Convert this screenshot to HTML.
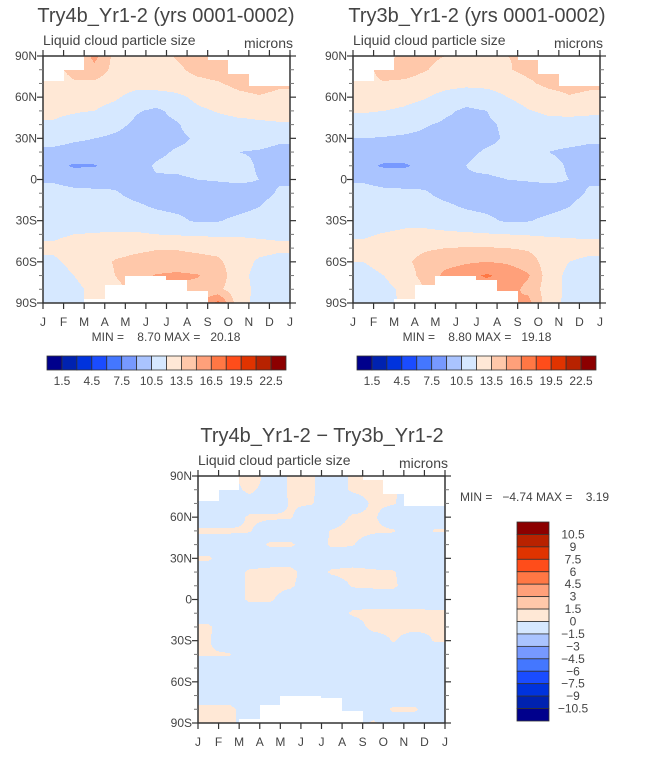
<!DOCTYPE html>
<html><head><meta charset="utf-8"><style>
html,body{margin:0;padding:0;background:#fff;}
svg text{font-family:"Liberation Sans",sans-serif;fill:#444;white-space:pre;}
</style></head><body>
<svg id="fig" width="646" height="753" viewBox="0 0 646 753" xmlns="http://www.w3.org/2000/svg"></svg>
<script>
const months = ["J","F","M","A","M","J","J","A","S","O","N","D","J"];
const latTicks = ["90N","60N","30N","0","30S","60S","90S"];
const palette = ["#00008C","#0022B0","#0033DD","#1A4CFF","#4477FF","#7799FF","#AAC4FF","#D6E8FF","#FFE8D6","#FFC8AA","#FFA07A","#FF7744","#FF4D1A","#E03300","#B82200","#8C0000"];
const barLabelsAbs = ["1.5","4.5","7.5","10.5","13.5","16.5","19.5","22.5"];
const barLabelsDiff = ["10.5","9","7.5","6","4.5","3","1.5","0","\u22121.5","\u22123","\u22124.5","\u22126","\u22127.5","\u22129","\u221210.5"];
// rows: lat 90..-90 step 10 ; cols: months Jan..Dec
const fieldA = [
[13,13,15.5,13,12.8,13,13.6,13.8,14,13.5,13.6,13.6],
[13,14,14.5,13,12.7,13,13.3,13.8,14,13.6,13.8,13.8],
[12.8,13.3,13.2,12.6,12.5,12.8,12.9,13.2,13.4,13.8,14,13.7],
[12.5,12.6,12.5,12.2,11.5,11.2,11.6,12.4,12.8,13.2,13.4,13.2],
[12.2,12.1,12,11.5,10.6,10.3,10.8,11.7,12.1,12.4,12.4,12.4],
[11.9,11.6,11.2,10.8,10.3,10.2,10.4,11,11.4,11.6,11.8,11.9],
[11.0,10.7,10.5,10.3,10.1,10.2,10.3,10.6,10.9,11,11,10.7],
[10.2,10.0,10.0,10.0,10.2,10.3,10.6,10.7,10.6,10.5,10.4,10.2],
[9.5,8.8,8.9,9.6,10.1,10.6,10.8,11,11,10.8,10.4,10.1],
[10.4,10.2,10.1,10.2,10.3,10.4,10.3,10.5,10.6,10.7,10.5,10.4],
[10.8,10.7,10.7,10.6,10.2,10.0,10.0,9.9,9.9,10.0,10.2,10.6],
[11.0,11.0,11.0,10.9,10.7,10.4,10.2,10.0,10.0,10.1,10.5,10.9],
[11.2,11.2,11.2,11.2,11.1,11.0,10.8,10.3,10.4,10.8,11.1,11.2],
[11.8,12.0,12.1,12.2,12.2,12.0,11.9,11.8,11.8,11.8,11.8,11.8],
[12.2,12.5,12.8,13.0,13.2,13.4,13.4,13.2,13,12.8,12.4,12.2],
[11.8,12.3,13,13.6,13.9,14.1,14.1,14,13.8,12.6,11.8,11.6],
[11.5,12,12.6,13.5,14.4,15.1,15.3,15.1,14.4,12.4,11.6,11.4],
[11.4,11.7,12.3,13,14,14.5,14.8,14.5,13.8,12.6,11.6,11.4],
[11,11.8,12.2,12.6,13,13.5,14,14,17,12.5,11.6,10.8]];
const fieldB = [
[13,13,13.8,13.8,13.5,13.3,13.4,13.5,13.6,13.5,13.6,13.6],
[13,14,14.2,13.6,13,13,13.2,13.4,13.8,13.8,13.8,13.8],
[13.2,13.4,13.2,12.8,12.5,12.4,12.5,12.8,13.3,13.8,14,13.8],
[12.6,12.6,12.4,12.1,11.5,11,11.2,12,12.6,13,13.4,13.2],
[12.1,12,11.8,11.4,10.7,10.3,10.5,11.2,11.9,12.3,12.3,12.2],
[11.5,11.3,11,10.6,10.3,10.2,10.3,10.7,11.2,11.5,11.6,11.6],
[10.5,10.4,10.3,10.2,10.1,10.2,10.3,10.6,10.8,10.9,10.9,10.7],
[10.1,9.8,9.9,10.0,10.2,10.3,10.6,10.7,10.6,10.5,10.3,10.2],
[9.4,8.8,8.8,9.5,10.0,10.5,10.8,11,11,10.8,10.4,10.1],
[10.4,10.2,10.1,10.2,10.3,10.4,10.3,10.5,10.6,10.7,10.5,10.4],
[10.8,10.7,10.7,10.6,10.2,10.0,10.0,9.9,9.9,10.0,10.2,10.6],
[11.0,11.0,11.0,10.9,10.7,10.4,10.2,9.9,10.0,10.1,10.5,10.9],
[11.2,11.3,11.6,11.5,11.2,11.0,10.8,10.3,10.4,10.8,11.1,11.2],
[11.8,12.1,12.3,12.4,12.3,12.2,12.1,12.0,11.9,11.8,11.8,11.8],
[12.4,12.7,13,13.3,13.5,13.6,13.6,13.5,13.3,12.9,12.5,12.4],
[12,12.5,13.2,14,14.5,14.8,15,14.8,14.2,12.8,12,11.7],
[11.5,12,12.8,14,15.4,16,16.7,16,15.2,12.8,11.6,11.4],
[11.3,11.6,12.3,13.5,14.5,15.2,15.6,15.8,14.5,12.8,11.6,11.4],
[10.8,11.6,12.2,12.6,13,13.5,14,14.5,15.6,12.6,11.6,10.8]];
const fieldD = [
[-0.4,-0.4,0.6,-0.4,0.1,0.1,-0.4,0.1,0.2,0.2,-0.4,-0.4],
[-0.4,-0.4,0.2,-0.4,0.1,0.1,-0.4,0.1,0.2,0.1,-0.4,-0.4],
[-0.4,-0.4,-0.4,-0.4,0.05,0.05,-0.4,-0.4,0.1,0.05,-0.4,-0.4],
[-0.4,-0.4,0.1,0.1,0.05,-0.4,-0.4,0.1,0.1,-0.4,-0.4,-0.4],
[0.1,0.1,0.05,-0.4,-0.4,-0.4,0.05,0.2,0.1,0.05,-0.4,0.05],
[-0.4,-0.4,-0.4,0.1,0.1,-0.4,0.1,0.05,-0.4,-0.4,-0.4,-0.4],
[0.1,-0.4,-0.4,-0.4,-0.4,-0.4,-0.4,-0.4,-0.4,-0.4,-0.4,-0.4],
[-0.4,-0.4,0.1,0.2,0.2,-0.4,0.1,0.2,0.1,0.05,-0.4,-0.4],
[-0.4,-0.4,0.1,0.2,0.1,-0.4,-0.4,0.05,0.1,0.1,-0.4,-0.4],
[-0.4,-0.4,0.1,0.1,-0.4,-0.4,-0.4,-0.4,-0.4,-0.4,-0.4,-0.4],
[-0.4,-0.4,-0.4,-0.4,-0.4,-0.4,-0.4,0.1,0.2,0.2,0.2,0.1],
[0.1,-0.4,-0.4,-0.4,-0.4,-0.4,-0.4,-0.4,0.2,0.2,0.2,0.1],
[0.05,-0.4,-0.4,-0.4,-0.4,-0.4,-0.4,-0.4,-0.4,0.05,-0.4,0.05],
[0.05,0.05,-0.4,-0.4,-0.4,-0.4,-0.4,-0.4,-0.4,-0.4,-0.4,-0.4],
[-0.4,-0.4,-0.4,-0.4,-0.4,-0.4,-0.4,-0.4,-0.4,-0.4,-0.4,-0.4],
[-0.4,-0.4,-0.4,-0.4,-0.4,-0.4,-0.4,-0.4,-0.4,-0.4,-0.4,-0.4],
[-0.4,-0.4,-0.4,-0.4,-0.4,-0.4,-0.4,-0.4,-0.4,-0.4,-0.4,-0.4],
[0.2,0.2,-0.4,-0.4,-0.4,-0.4,-0.4,-0.4,-0.4,0.1,0.1,-0.4],
[0.2,0.2,-0.4,-0.4,-0.4,-0.4,-0.4,-0.4,0.1,-0.4,-0.4,-0.4]];
const northLimit = [72,80,90,90,90,90,90,90,87,77,68,68];
const southLimit = [-90,-90,-87,-77,-70,-70,-73,-81,-90,-90,-90,-90];
const southLimitD = [-90,-90,-87,-77,-70,-70,-72,-81,-90,-90,-90,-90];

const NS="http://www.w3.org/2000/svg";
const svg=document.getElementById('fig');
function mk(tag,attrs,parent){const e=document.createElementNS(NS,tag);for(const k in attrs)e.setAttribute(k,attrs[k]);(parent||svg).appendChild(e);return e;}
function txt(x,y,s,size,anchor,parent,name){const t=mk('text',{x:x,y:y,'font-size':size,'text-anchor':anchor||'start'},parent);t.textContent=s;


return t;}
function sample(f,mcol,rrow){
  mcol=Math.max(0,Math.min(11,mcol));rrow=Math.max(0,Math.min(18,rrow));
  const c0=Math.min(10,Math.floor(mcol)),r0=Math.min(17,Math.floor(rrow));
  const fx=mcol-c0,fy=rrow-r0;
  return f[r0][c0]*(1-fx)*(1-fy)+f[r0][c0+1]*fx*(1-fy)+f[r0+1][c0]*(1-fx)*fy+f[r0+1][c0+1]*fx*fy;
}
function drawPlot(x0,y0,W,H,field,north,south,levelFn,name){
  const g=mk('g',{});
  
  
  const xs=m=>x0+m*W/12, ys=lat=>y0+(90-lat)*H/180;
  for(let py=0;py<H;py++){
    const lat=90-(py+0.5)*180/H, rr=(90-lat)/10;
    let runStart=0,runCol=null;
    for(let px=0;px<=W;px++){
      let col=null;
      if(px<W){
        const mi=Math.min(11,Math.floor((px+0.5)*12/W));
        if(lat<=north[mi]&&lat>=south[mi]){
          const v=sample(field,(px+0.5)*12/W-0.5,rr);
          col=palette[levelFn(v)];
        } else col='#fff';
      }
      if(col!==runCol){
        if(runCol!==null&&runCol!=='#fff'){mk('rect',{x:x0+runStart,y:y0+py,width:px-runStart,height:1,fill:runCol},g);}
        runStart=px;runCol=col;
      }
    }
  }
  const fr=mk('rect',{x:x0,y:y0,width:W,height:H,fill:'none',stroke:'#333','stroke-width':1.5});
  
  
  for(let i=0;i<=12;i++){
    const x=xs(i);
    mk('line',{x1:x,y1:y0+H,x2:x,y2:y0+H+6,stroke:'#333','stroke-width':1.2});
    mk('line',{x1:x,y1:y0,x2:x,y2:y0-6,stroke:'#333','stroke-width':1.2});
    txt(x,y0+H+23,months[i],12,'middle',null,'x-tick-label');
  }
  for(let k=0;k<=18;k++){
    const lat=90-k*10,y=ys(lat);
    if(k%3===0){
      mk('line',{x1:x0-6,y1:y,x2:x0,y2:y,stroke:'#333','stroke-width':1.2});
      mk('line',{x1:x0+W,y1:y,x2:x0+W+6,y2:y,stroke:'#333','stroke-width':1.2});
      txt(x0-6,y+4,latTicks[k/3],12,'end',null,'y-tick-label');
    } else {
      mk('line',{x1:x0-4,y1:y,x2:x0,y2:y,stroke:'#777','stroke-width':1});
      mk('line',{x1:x0+W,y1:y,x2:x0+W+4,y2:y,stroke:'#777','stroke-width':1});
    }
  }
  txt(x0,y0-11,'Liquid cloud particle size',14,'start',null,'plot-subtitle');
  txt(x0+W+3,y0-8,'microns',14,'end',null,'units-label');
}
const lvAbs=v=>Math.max(0,Math.min(15,Math.floor(v/1.5)));
const lvDiff=v=>Math.max(0,Math.min(15,Math.floor((v+12)/1.5)));

txt(166,22,'Try4b_Yr1-2 (yrs 0001-0002)',20,'middle',null,'title-left');
txt(477,22,'Try3b_Yr1-2 (yrs 0001-0002)',20,'middle',null,'title-right');
drawPlot(43,56,247,247,fieldA,northLimit,southLimit,lvAbs,'contour-try4b');
drawPlot(353,56,247,247,fieldB,northLimit,southLimit,lvAbs,'contour-try3b');
txt(166,341,'MIN =    8.70 MAX =   20.18',12,'middle',null,'minmax-left');
txt(477,341,'MIN =    8.80 MAX =   19.18',12,'middle',null,'minmax-right');

function hbar(x0,y0,W,H,name){
  const g=mk('g',{});
  
  
  const bw=W/16;
  for(let k=0;k<16;k++){mk('rect',{x:x0+k*bw,y:y0,width:bw,height:H,fill:palette[k],stroke:'#333','stroke-width':0.8},g);}
  for(let j=0;j<barLabelsAbs.length;j++){txt(x0+(2*j+1)*bw,y0+H+15,barLabelsAbs[j],12,'middle',g,'colorbar-label');}
}
hbar(47,356,239,14,'colorbar-left');
hbar(357,356,239,14,'colorbar-right');

txt(322,442,'Try4b_Yr1-2 \u2212 Try3b_Yr1-2',20,'middle',null,'title-diff');
drawPlot(198,476,247,247,fieldD,northLimit,southLimitD,lvDiff,'contour-diff');
txt(460,501,'MIN =   \u22124.74 MAX =    3.19',12,'start',null,'minmax-diff');
(function(){
  const g=mk('g',{});
  
  
  const x0=517,y0=522,W=32,H=199,bh=H/16;
  for(let k=0;k<16;k++){mk('rect',{x:x0,y:y0+k*bh,width:W,height:bh,fill:palette[15-k],stroke:'#333','stroke-width':0.8},g);}
  for(let j=0;j<barLabelsDiff.length;j++){txt(573,y0+(j+1)*bh+4,barLabelsDiff[j],12,'middle',g,'colorbar-label');}
})();
</script>
</body></html>
